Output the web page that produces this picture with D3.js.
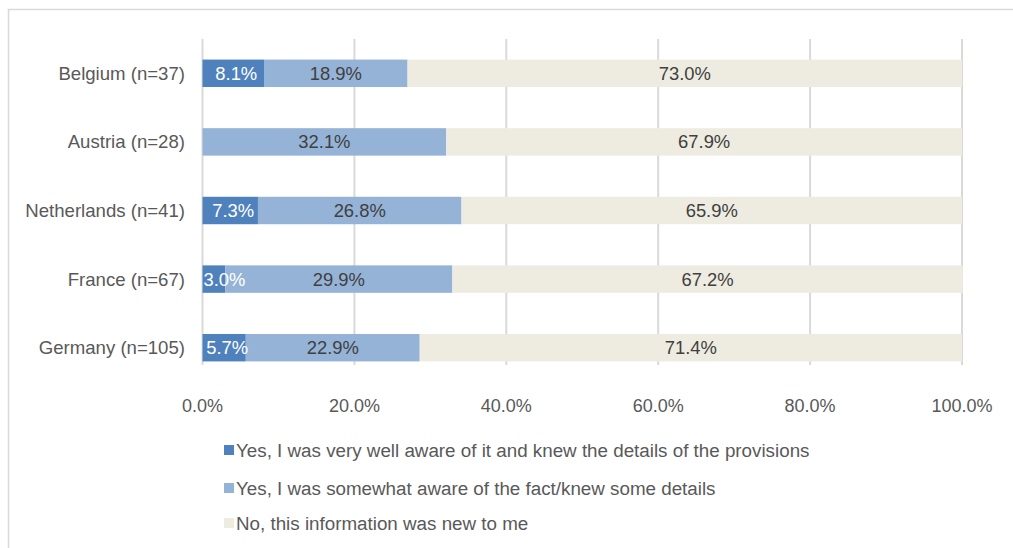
<!DOCTYPE html>
<html>
<head>
<meta charset="utf-8">
<script src="https://cdn.jsdelivr.net/npm/d3@7"></script>
<style>
  body { margin: 0; background: #fff; }
  svg { display: block; font-family: "Liberation Sans", Arial, sans-serif; }
</style>
</head>
<body>
<script>
(function() {

  // data, top row first
  let countries = ["Belgium (n=37)", "Austria (n=28)", "Netherlands (n=41)", "France (n=67)", "Germany (n=105)"];
  let veryWell = [8.1, 0, 7.3, 3.0, 5.7];
  let somewhat = [18.9, 32.1, 26.8, 29.9, 22.9];
  let newToMe = [73.0, 67.9, 65.9, 67.2, 71.4];
  let seriesNames = [
    "Yes, I was very well aware of it and knew the details of the provisions",
    "Yes, I was somewhat aware of the fact/knew some details",
    "No, this information was new to me"
  ];
  let colors = ["#4f81bd", "#95b3d7", "#eeece1"];
  let labelColors = ["#ffffff", "#404040", "#404040"];
  let xTicks = [0, 20, 40, 60, 80, 100];

  let svg = d3.select("body").append("svg")
    .attr("width", 1013)
    .attr("height", 548);

  // chart border
  svg.append("rect")
    .attr("x", 8.5).attr("y", 9.5)
    .attr("width", 1020).attr("height", 600)
    .attr("fill", "none")
    .attr("stroke", "#d9d9d9")
    .attr("stroke-width", 1.5);

  let xScale = d3.scaleLinear().domain([0, 100]).range([202.5, 962]);
  let yScale = d3.scaleBand().domain(countries).range([39, 382]).paddingInner(0.6).paddingOuter(0.3);

  // gridlines
  svg.append("g").selectAll("line")
    .data(xTicks)
    .enter().append("line")
      .attr("x1", d => xScale(d)).attr("x2", d => xScale(d))
      .attr("y1", 39).attr("y2", 365)
      .attr("stroke", "#d9d9d9")
      .attr("stroke-width", 2);

  // x tick labels
  svg.append("g").selectAll("text")
    .data(xTicks)
    .enter().append("text")
      .attr("x", d => xScale(d))
      .attr("y", 406)
      .attr("dy", "0.35em")
      .attr("text-anchor", "middle")
      .style("font-size", "18px")
      .attr("fill", "#595959")
      .text(d => d.toFixed(1) + "%");

  // category labels
  svg.append("g").selectAll("text")
    .data(countries)
    .enter().append("text")
      .attr("x", 185)
      .attr("y", d => yScale(d) + yScale.bandwidth() / 2)
      .attr("dy", "0.35em")
      .attr("text-anchor", "end")
      .style("font-size", "18.6px")
      .attr("fill", "#595959")
      .text(d => d);

  let rows = countries.map((c, i) => ({ country: c, values: [veryWell[i], somewhat[i], newToMe[i]] }));
  let stacked = [];
  rows.forEach(r => {
    let start = 0;
    r.values.forEach((v, s) => {
      stacked.push({ country: r.country, s: s, v: v, x0: start, x1: start + v });
      start += v;
    });
  });

  svg.append("g").selectAll("rect")
    .data(stacked.filter(d => d.v > 0))
    .enter().append("rect")
      .attr("x", d => xScale(d.x0))
      .attr("y", d => yScale(d.country))
      .attr("width", d => xScale(d.x1) - xScale(d.x0))
      .attr("height", yScale.bandwidth())
      .attr("fill", d => colors[d.s]);

  let labels = svg.append("g").selectAll("text")
    .data(stacked.filter(d => d.v > 0))
    .enter().append("text")
      .attr("y", d => yScale(d.country) + yScale.bandwidth() / 2)
      .attr("dy", "0.35em")
      .attr("text-anchor", "middle")
      .style("font-size", "18.4px")
      .attr("fill", d => labelColors[d.s])
      .text(d => d.v.toFixed(1) + "%");

  // center in segment, but keep inside the plot area on the left
  labels.attr("x", function(d) {
    let w = this.getComputedTextLength();
    let cx = (xScale(d.x0) + xScale(d.x1)) / 2 + (d.s === 0 ? 3 : 0);
    return Math.max(cx, xScale(0) + 1 + w / 2);
  });

  // legend
  let legend = svg.append("g").selectAll("g")
    .data(seriesNames)
    .enter().append("g")
      .attr("transform", (d, i) => "translate(224," + [450, 488, 523][i] + ")");
  legend.append("rect")
    .attr("x", 0).attr("y", -5)
    .attr("width", 10).attr("height", 10)
    .attr("fill", (d, i) => colors[i]);
  legend.append("text")
    .attr("x", 12)
    .attr("dy", "0.35em")
    .style("font-size", "18.8px")
    .attr("fill", "#595959")
    .text(d => d);

})();
</script>
</body>
</html>
